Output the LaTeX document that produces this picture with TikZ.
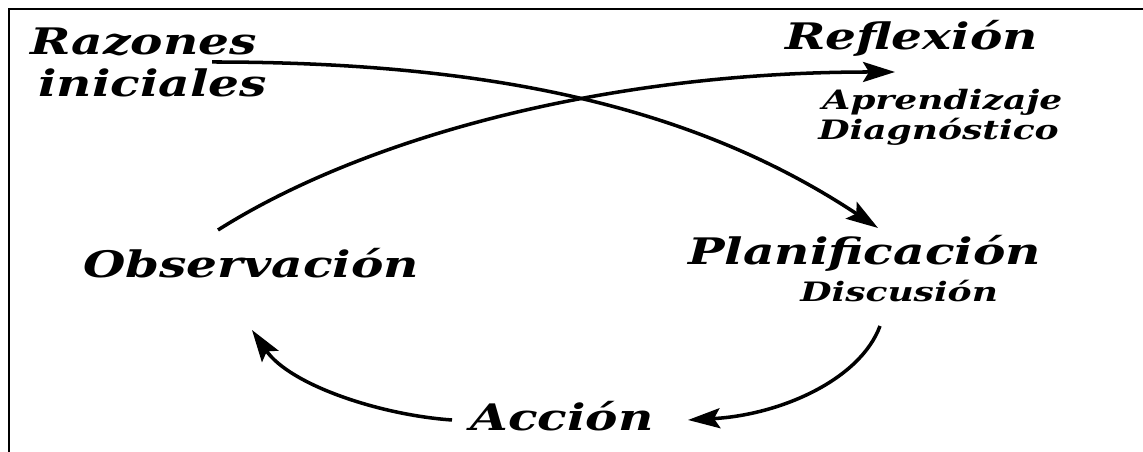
\documentclass[tikz,border=0pt]{standalone}
\usepackage{fontspec}
\usetikzlibrary{positioning, arrows.meta}
\newfontfamily\stagefont[FakeStretch=1.33]{DejaVu Serif}
\newfontfamily\notefont[FakeStretch=1.35]{DejaVu Serif}
\newcommand{\bigstage}{\stagefont\bfseries\itshape\fontsize{26}{30}\selectfont}
\newcommand{\smallstage}{\notefont\bfseries\itshape\fontsize{19}{23}\selectfont}
\tikzset{
    stage/.style = {font=\bigstage, inner sep=0pt, anchor=base west},
    note/.style = {font=\smallstage, inner sep=0pt, anchor=base west},
}
\tikzset{
    cycle edge/.style = {draw, line width=2.5pt, -{Stealth[length=0.8cm, width=0.5cm, inset=0.15cm]}},
}
\begin{document}
\begin{tikzpicture}
    \useasboundingbox (0,0) rectangle (28.575,11.3);
    \draw[line width=2pt] (0.225,0) -- (0.225,11.075) -- (28.575,11.075);

    \node (raz) [stage] at (0.75,9.925) {Razones};
    \node (ini) [stage, below right=1.05cm and 0.2cm of raz.base west, anchor=base west] {iniciales};
    \node (refl) [stage] at (19.625,10.05) {Reflexión};
    \node (apr) [note, below right=1.5cm and 0.925cm of refl.base west, anchor=base west] {Aprendizaje};
    \node (diag) [note, below left=0.75cm and 0.1cm of apr.base west, anchor=base west] {Diagnóstico};
    \node (obs) [stage] at (2.075,4.35) {Observación};
    \node (plan) [stage] at (17.2,4.675) {Planificación};
    \node (disc) [note, below right=0.925cm and 2.8cm of plan.base west, anchor=base west] {Discusión};
    \node (acc) [stage] at (11.75,0.525) {Acción};

    \draw[cycle edge] ([shift={(4.55,-0.175)}]raz.base west) .. controls +(7.2,0) and +(-4.45,2.95) .. ([shift={(4.75,0.925)}]plan.base west);
    \draw[cycle edge] ([shift={(3.375,1.2)}]obs.base west) .. controls +(3.55,2.25) and +(-7.375,0) .. ([shift={(2.75,-0.55)}]refl.base west);
    \draw[cycle edge] ([shift={(2.0,-0.6)}]disc.base west) .. controls +(-0.5,-1.35) and +(2.3,0.125) .. ([shift={(5.45,0.275)}]acc.base west);
    \draw[cycle edge] ([shift={(-0.45,0.275)}]acc.base west) .. controls +(-1.8,0.125) and +(0.95,-1.375) .. ([shift={(4.225,-1.3)}]obs.base west);
\end{tikzpicture}
\end{document}
